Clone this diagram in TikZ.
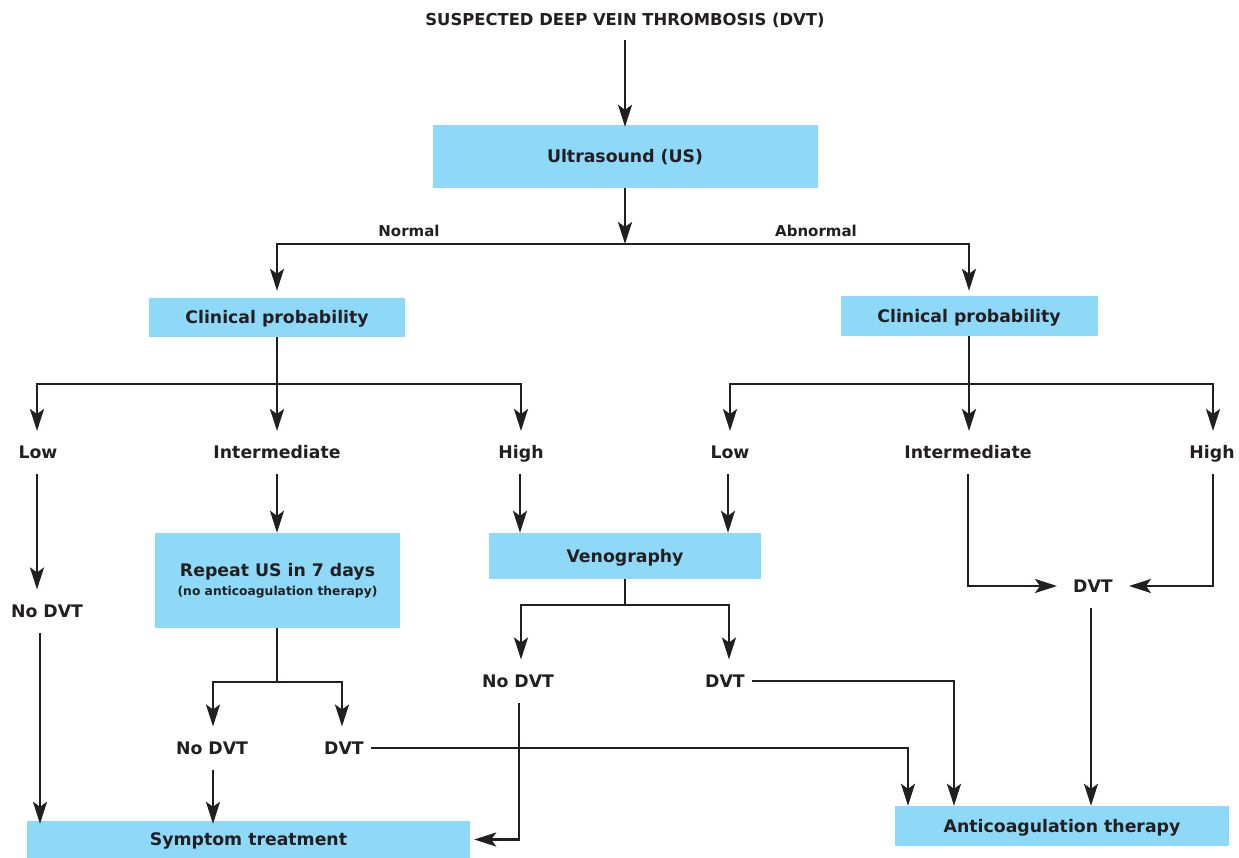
\documentclass[tikz,border=0pt]{standalone}
\usepackage{fontspec}
\setmainfont{DejaVu Sans}
\usetikzlibrary{arrows.meta}
\definecolor{boxblue}{RGB}{142,216,248}
\definecolor{ink}{RGB}{35,31,32}
\begin{document}
\begin{tikzpicture}[x=1pt,y=-1pt,
  conn/.style={draw=ink, line width=2.4pt},
  arr/.style={conn, -{Stealth[length=22pt,width=14pt,inset=5pt]}},
  lbl/.style={font=\fontsize{17.3}{20}\selectfont\bfseries, text=ink, text height=12.6pt, text depth=0pt, inner xsep=7pt, inner ysep=15pt},
  small/.style={font=\fontsize{15}{18}\selectfont\bfseries, text=ink, inner sep=2pt},
  box/.style={fill=boxblue, font=\fontsize{17.3}{20}\selectfont\bfseries, text=ink, inner sep=0pt, align=center, text height=12.6pt, text depth=0pt}
]
\fill[white] (0,0) rectangle (1239,858);
\useasboundingbox (0,0) rectangle (1239,858);

% nodes
\node[lbl, font=\fontsize{16.4}{19}\selectfont\bfseries] (title) at (625,19) {SUSPECTED DEEP VEIN THROMBOSIS (DVT)};
\node[box, minimum width=385pt, minimum height=63pt] (us) at (625,156.5) {Ultrasound (US)};
\coordinate (j1) at (625,244);
\node[small] (normal) at (409,231) {Normal};
\node[small] (abnormal) at (816,231) {Abnormal};

\node[box, minimum width=256pt, minimum height=39pt] (cpL) at (277,317.5) {Clinical probability};
\node[box, minimum width=257pt, minimum height=40pt] (cpR) at (969,316) {Clinical probability};
\coordinate (jL) at (277,384);
\coordinate (jR) at (969,384);

\node[lbl] (lowL) at (38,452.5) {Low};
\node[lbl] (intL) at (277,452.5) {Intermediate};
\node[lbl] (highL) at (521,452.5) {High};
\node[lbl] (lowR) at (730,452.5) {Low};
\node[lbl] (intR) at (968,452.5) {Intermediate};
\node[lbl] (highR) at (1212,452.5) {High};

\node[lbl] (nodvtA) at (47,611) {No DVT};
\node[box, minimum width=245pt, minimum height=95pt, text height=, text depth=] (rep) at (277.5,580.5)
  {\fontsize{17.3}{20}\selectfont Repeat US in 7 days\\[-1pt]\fontsize{12.3}{14}\selectfont (no anticoagulation therapy)};
\node[box, minimum width=272pt, minimum height=46pt] (veno) at (625,556) {Venography};

\coordinate (jRep) at (277,682);
\node[lbl] (nodvtB) at (212,748) {No DVT};
\node[lbl] (dvtB) at (344,748) {DVT};

\coordinate (jVen) at (625,605);
\node[lbl] (nodvtC) at (518,681) {No DVT};
\node[lbl] (dvtC) at (725,681) {DVT};

\node[lbl] (dvtD) at (1093,586) {DVT};

\node[box, minimum width=443pt, minimum height=37pt] (sym) at (248.5,839.5) {Symptom treatment};
\node[box, minimum width=334pt, minimum height=40pt] (anti) at (1062,826) {Anticoagulation therapy};

% connectors
\draw[arr] (title.south) -- ([yshift=-2pt]title.south |- us.north);
\draw[arr] (us.south) -- (j1);
\draw[arr, shorten >=7pt] (j1) -| (cpL.north);
\draw[arr, shorten >=5pt] (j1) -| (cpR.north);

\draw[conn] (cpL.south) -- (jL);
\draw[arr] (jL) -| ([xshift=-1pt]lowL.north);
\draw[arr] (jL) -- (intL.north);
\draw[arr] (jL) -| (highL.north);

\draw[conn] (cpR.south) -- (jR);
\draw[arr] (jR) -| (lowR.north);
\draw[arr] (jR) -- (jR |- intR.north);
\draw[arr] (jR) -| ([xshift=1pt]highR.north);

% left low
\draw[arr] ([xshift=-1pt]lowL.south) -- ([xshift=-10pt]nodvtA.north);
\draw[arr] ([xshift=-7pt]nodvtA.south) -- ([xshift=-7pt, yshift=-3pt]nodvtA.south |- sym.north);

% intermediate left
\draw[arr] (intL.south) -- (intL.south |- rep.north);
\draw[conn] (jRep |- rep.south) -- (jRep);
\draw[arr] (jRep) -| ([xshift=1pt]nodvtB.north);
\draw[arr] (jRep) -| ([xshift=-2pt]dvtB.north);
\draw[arr] ([xshift=1pt]nodvtB.south) -- ([xshift=1pt, yshift=-3pt]nodvtB.south |- sym.north);
\draw[arr] (dvtB.east) -| ([xshift=-154pt]anti.north);

% venography
\draw[arr] ([xshift=-1pt]highL.south) -- ([xshift=-1pt]highL.south |- veno.north);
\draw[arr] ([xshift=-2pt]lowR.south) -- ([xshift=-2pt]lowR.south |- veno.north);
\draw[conn] (veno.south) -- (jVen);
\draw[arr] (jVen) -| ([xshift=3pt]nodvtC.north);
\draw[arr] (jVen) -| ([xshift=4pt]dvtC.north);
\draw[arr] ([xshift=1pt]nodvtC.south) |- ([xshift=4pt]sym.east);
\draw[arr] (dvtC.east) -| ([xshift=-108pt]anti.north);

% right side
\draw[arr, shorten >=9pt] (intR.south) |- (dvtD.west);
\draw[arr, shorten >=9pt] ([xshift=1pt]highR.south) |- (dvtD.east);
\draw[arr] ([xshift=-2pt]dvtD.south) -- ([xshift=-2pt]dvtD.south |- anti.north);
\end{tikzpicture}
\end{document}
